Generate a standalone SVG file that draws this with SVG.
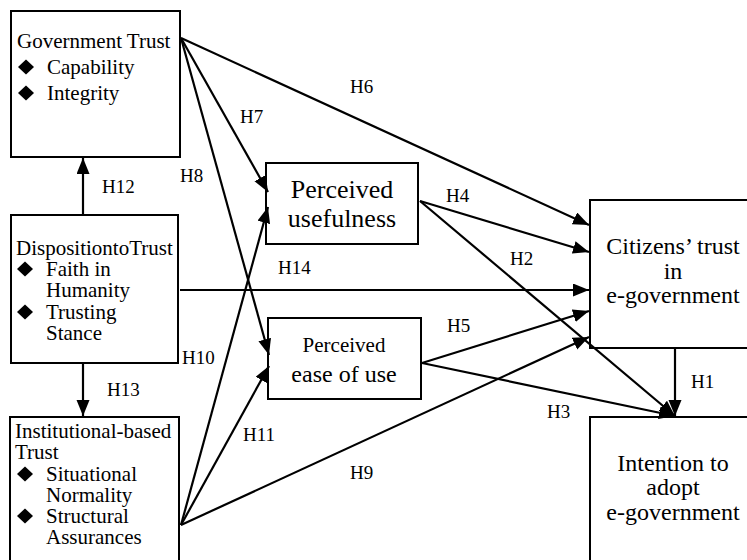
<svg xmlns="http://www.w3.org/2000/svg" width="747" height="560" viewBox="0 0 747 560" font-family="'Liberation Serif', 'DejaVu Serif', serif">
<defs>
<marker id="ah" markerUnits="userSpaceOnUse" markerWidth="17" markerHeight="14" refX="16" refY="6.5" orient="auto">
<path d="M0,0 L16,6.5 L0,13 z" fill="#000"/>
</marker>
<polygon id="dia" points="0,-7.5 8,0 0,7.5 -8,0" fill="#000"/>
</defs>
<style>
text{font-family:'Liberation Serif','DejaVu Serif',serif;fill:#000}
.box{fill:#fff;stroke:#000;stroke-width:2}
.n{font-size:21px}
.c{font-size:24px;text-anchor:middle}
.lb{font-size:19px}
#edges line{stroke:#000;stroke-width:2.2;marker-end:url(#ah)}
</style>
<rect width="747" height="560" fill="#fff"/>

<g id="govtrust">
<rect class="box" x="11" y="11" width="169" height="146"/>
<text class="n" x="17" y="48">Government Trust<tspan x="47" dy="26">Capability</tspan><tspan x="47" dy="26">Integrity</tspan></text>
<use href="#dia" x="26" y="67"/>
<use href="#dia" x="26" y="93"/>
</g>

<g id="disposition">
<rect class="box" x="11" y="215" width="167" height="148"/>
<text class="n" x="16" y="255">DispositiontoTrust<tspan x="46" dy="21">Faith in</tspan><tspan x="46" dy="21">Humanity</tspan><tspan x="46" dy="22">Trusting</tspan><tspan x="46" dy="21">Stance</tspan></text>
<use href="#dia" x="25" y="269"/>
<use href="#dia" x="25" y="312"/>
</g>

<g id="institutional">
<rect class="box" x="10" y="417" width="169" height="160"/>
<text class="n" x="15" y="438">Institutional-based<tspan x="15" dy="21">Trust</tspan><tspan x="46" dy="22">Situational</tspan><tspan x="46" dy="21">Normality</tspan><tspan x="46" dy="21">Structural</tspan><tspan x="46" dy="21">Assurances</tspan></text>
<use href="#dia" x="25" y="474"/>
<use href="#dia" x="25" y="516"/>
</g>

<g id="usefulness">
<rect class="box" x="266" y="163" width="152" height="81"/>
<text x="342" y="198" font-size="26" text-anchor="middle">Perceived<tspan x="342" dy="29">usefulness</tspan></text>
</g>

<g id="easeofuse">
<rect class="box" x="268" y="318" width="153" height="81"/>
<text x="344" y="352" font-size="21" text-anchor="middle">Perceived<tspan x="344" dy="30" font-size="24">ease of use</tspan></text>
</g>

<g id="citizenstrust">
<rect class="box" x="590" y="200" width="180" height="148"/>
<text class="c" x="673" y="254">Citizens’ trust<tspan x="673" dy="25">in</tspan><tspan x="673" dy="24">e-government</tspan></text>
</g>

<g id="intention">
<rect class="box" x="590" y="417" width="180" height="160"/>
<text class="c" x="673" y="471">Intention to<tspan x="673" dy="24">adopt</tspan><tspan x="673" dy="25">e-government</tspan></text>
</g>

<g id="edges">
<line x1="83" y1="215" x2="83" y2="158"/>
<line x1="83" y1="363" x2="83" y2="416"/>
<line x1="181" y1="38" x2="589" y2="225"/>
<line x1="181" y1="38" x2="268" y2="192"/>
<line x1="181" y1="38" x2="269" y2="355"/>
<line x1="420" y1="201" x2="589" y2="252"/>
<line x1="420" y1="201" x2="675" y2="416"/>
<line x1="180" y1="290" x2="589" y2="290"/>
<line x1="422" y1="363" x2="589" y2="311"/>
<line x1="422" y1="363" x2="675" y2="416"/>
<line x1="181" y1="525" x2="589" y2="337"/>
<line x1="181" y1="525" x2="268" y2="207"/>
<line x1="181" y1="525" x2="269" y2="366"/>
<line x1="675" y1="348" x2="675" y2="416"/>
</g>

<g id="labels">
<text class="lb" x="102" y="193">H12</text>
<text class="lb" x="107" y="396">H13</text>
<text class="lb" x="350" y="93">H6</text>
<text class="lb" x="240" y="123">H7</text>
<text class="lb" x="180" y="182">H8</text>
<text class="lb" x="446" y="202">H4</text>
<text class="lb" x="510" y="265">H2</text>
<text class="lb" x="278" y="274">H14</text>
<text class="lb" x="447" y="332">H5</text>
<text class="lb" x="182" y="364">H10</text>
<text class="lb" x="547" y="418">H3</text>
<text class="lb" x="243" y="441">H11</text>
<text class="lb" x="350" y="479">H9</text>
<text class="lb" x="691" y="388">H1</text>
</g>
</svg>
